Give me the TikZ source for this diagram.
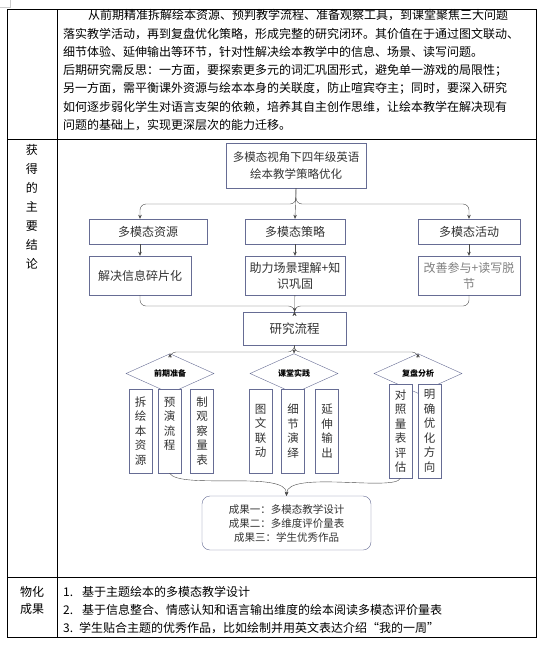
\documentclass[tikz,border=0pt]{standalone}
\usepackage{fontspec}
\setmainfont{Noto Sans CJK SC}
\usetikzlibrary{arrows.meta,shapes.geometric,positioning}
\XeTeXlinebreaklocale "zh"
\XeTeXlinebreakskip=0pt plus 2pt

\definecolor{boxline}{HTML}{666C94}
\definecolor{edgeline}{HTML}{4A4A4A}
\definecolor{txt}{HTML}{333333}

\begin{document}
\begin{tikzpicture}[x=1pt, y=-1pt,
  box/.style={draw=boxline, fill=white, text=txt, inner sep=0pt, align=center, font=\fontsize{12}{16}\selectfont},
  vbox/.style={box, minimum width=23pt, minimum height=84pt, font=\fontsize{11.5}{14.5}\selectfont},
  dia/.style={diamond, draw=boxline, fill=white, inner sep=0pt, minimum width=88pt, minimum height=26pt, font=\bfseries\fontsize{8}{9}\selectfont},
  link/.style={draw=edgeline, -{Stealth[length=4pt,width=3.5pt]}},
  fork/.style={link, rounded corners=6pt},
  para/.style={anchor=west, inner sep=0pt, font=\fontsize{12}{14}\selectfont}]
\useasboundingbox (0,0) rectangle (542,646);

% Table
\draw[gray!40] (10,0) -- (10,7) -- (0,7);
\draw[line width=0.9pt] (7,9) rectangle (536,637);
\draw[line width=0.9pt] (57,9) -- (57,637);
\draw[line width=0.9pt] (7,139) -- (536,139);
\draw[line width=0.9pt] (7,577) -- (536,577);

% Row 1: text
\node[para] (p1) at (88,15.5) {\makebox[439pt][s]{从前期精准拆解绘本资源、预判教学流程、准备观察工具，到课堂聚焦三大问题}};
\node[para] (p2) at (63,33.8) {\makebox[464pt][s]{落实教学活动，再到复盘优化策略，形成完整的研究闭环。其价值在于通过图文联动、}};
\node[para] (p3) at (63,52.1) {细节体验、延伸输出等环节，针对性解决绘本教学中的信息、场景、读写问题。};
\node[para] (p4) at (63,70.4) {\makebox[464pt][s]{后期研究需反思：一方面，要探索更多元的词汇巩固形式，避免单一游戏的局限性；}};
\node[para] (p5) at (63,88.7) {\makebox[464pt][s]{另一方面，需平衡课外资源与绘本本身的关联度，防止喧宾夺主；同时，要深入研究}};
\node[para] (p6) at (63,107) {\makebox[464pt][s]{如何逐步弱化学生对语言支架的依赖，培养其自主创作思维，让绘本教学在解决现有}};
\node[para] (p7) at (63,125.3) {问题的基础上，实现更深层次的能力迁移。};

% Row 2: label
\foreach \c [count=\i] in {获,得,的,主,要,结,论}
  \node[font=\fontsize{12}{14}\selectfont] (lab\i) at (32,131+19*\i) {\c};

% Diagram: goal and three parts
\node[box, minimum width=140pt, minimum height=45pt, font=\fontsize{11.5}{17}\selectfont] (goal) at (296,165.5) {多模态视角下四年级英语\\绘本教学策略优化};
\node[box, minimum width=118pt, minimum height=25pt] (res) at (148,231.5) {多模态资源};
\node[box, minimum width=100pt, minimum height=25pt] (strat) at (295,231.5) {多模态策略};
\node[box, minimum width=102pt, minimum height=25pt] (act) at (469,231.5) {多模态活动};
\node[box, minimum width=102pt, minimum height=39pt] (resout) at (140,275.5) {解决信息碎片化};
\node[box, minimum width=100pt, minimum height=39pt] (stratout) at (295,275.5) {助力场景理解+知\\识巩固};
\node[box, minimum width=102pt, minimum height=39pt, text=gray] (actout) at (469,275.5) {改善参与+读写脱\\节};

\coordinate (split) at (296,204);
\draw[fork] (goal.south) -- (split) -| (res.north -| resout.north);
\draw[link] (goal.south) -- (strat.north);
\draw[fork] (goal.south) -- (split) -| (act.north -| actout.north);

\draw[link] (res.south -| resout.north) -- (resout.north);
\draw[link] (strat) -- (stratout);
\draw[link] (act) -- (actout);

% Research flow
\node[box, minimum width=103pt, minimum height=33pt, font=\fontsize{12.5}{15}\selectfont] (flow) at (294.5,328.5) {研究流程};
\coordinate (merge) at (294.5,306);
\draw[fork] (resout.south) |- (merge) -- (flow.north);
\draw[link] (stratout) -- (flow);
\draw[fork] (actout.south) |- (merge) -- (flow.north);

% Three stages
\node[dia] (prep) at (170,373.5) {前期准备};
\node[dia] (class) at (294,373.5) {课堂实践};
\node[dia] (review) at (418,373.5) {复盘分析};

\coordinate (split2) at (294,352);
\draw[fork] (flow.south) -- (split2) -| (prep.north);
\draw[link] (flow.south) -- (class.north);
\draw[fork] (flow.south) -- (split2) -| (review.north);

% Steps
\node[vbox] (v1) at (140.5,431) {拆\\绘\\本\\资\\源};
\node[vbox] (v2) at (169.5,431) {预\\演\\流\\程\\\phantom{程}};
\node[vbox] (v3) at (202,431) {制\\观\\察\\量\\表};
\node[vbox] (v4) at (260.5,431) {图\\文\\联\\动};
\node[vbox] (v5) at (293,431) {细\\节\\演\\绎};
\node[vbox] (v6) at (327,431) {延\\伸\\输\\出};
\node[vbox, minimum height=94pt] (v7) at (400.5,431) {对\\照\\量\\表\\评\\估};
\node[vbox, minimum height=94pt] (v8) at (429.5,431) {明\\确\\优\\化\\方\\向};

% Results
\node[box, rounded corners=8pt, minimum width=169pt, minimum height=54pt, font=\fontsize{10.5}{14}\selectfont] (result) at (286.5,523) {成果一：多模态教学设计\\成果二：多维度评价量表\\成果三：学生优秀作品};
\draw[link] (v2.south) .. controls (180,490) and (287,470) .. (result.north);
\draw[link] (v7.south) .. controls (395,492) and (287,470) .. (result.north);

% Row 3
\node[font=\fontsize{12}{17}\selectfont, align=center] (outlab) at (32,600) {物化\\成果};
\node[para] (o1) at (63,592) {\makebox[19pt][l]{1.}基于主题绘本的多模态教学设计};
\node[para] (o2) at (63,610) {\makebox[19pt][l]{2.}基于信息整合、情感认知和语言输出维度的绘本阅读多模态评价量表};
\node[para] (o3) at (63,628) {\makebox[16pt][l]{3.}学生贴合主题的优秀作品，比如绘制并用英文表达介绍“我的一周”};
\end{tikzpicture}
\end{document}
